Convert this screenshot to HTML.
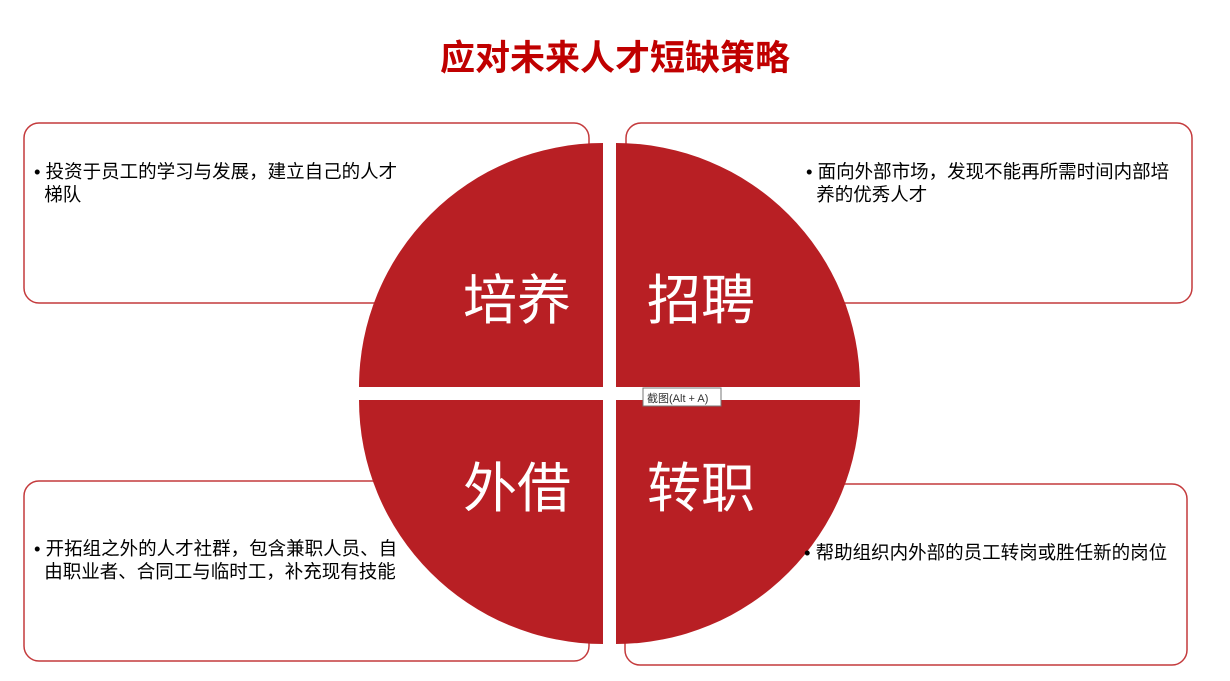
<!DOCTYPE html>
<html><head><meta charset="utf-8"><style>
body{margin:0;width:1230px;height:681px;background:#fff;position:relative;overflow:hidden;font-family:"Liberation Sans","Noto Sans CJK SC",sans-serif}
.t{position:absolute;font-size:18.5px;color:#000;line-height:23px}
.b{position:absolute;font-size:54px;color:#fff;line-height:54px}
</style></head><body>
<div style="position:absolute;left:0;width:1230px;top:38px;text-align:center;font-size:35px;font-weight:bold;color:#c00000;line-height:42px">应对未来人才短缺策略</div>
<svg width="1230" height="681" style="position:absolute;left:0;top:0">
<g fill="#fff" stroke="#c43a3c" stroke-width="1.5">
<rect x="24" y="123" width="565" height="180" rx="15"/>
<rect x="626" y="123" width="566" height="180" rx="15"/>
<rect x="24" y="481" width="565" height="180" rx="15"/>
<rect x="625" y="484" width="562" height="181" rx="15"/>
</g>
<g fill="#b81f24">
<path d="M603 387 L359 387 A244 244 0 0 1 603 143 Z"/>
<path d="M616 387 L616 143 A244 244 0 0 1 860 387 Z"/>
<path d="M603 400 L603 644 A244 244 0 0 1 359 400 Z"/>
<path d="M616 400 L860 400 A244 244 0 0 1 616 644 Z"/>
</g>
<rect x="643" y="388" width="78" height="18" fill="#fff" stroke="#777" stroke-width="1"/>
<text x="647" y="402" font-size="11" fill="#333" font-family="Liberation Sans,Noto Sans CJK SC,sans-serif">截图(Alt + A)</text>
</svg>
<div class="t" style="left:34px;top:160px">•&nbsp;投资于员工的学习与发展，建立自己的人才<br>&nbsp;&nbsp;梯队</div>
<div class="t" style="left:806px;top:160px">•&nbsp;面向外部市场，发现不能再所需时间内部培<br>&nbsp;&nbsp;养的优秀人才</div>
<div class="t" style="left:34px;top:537px">•&nbsp;开拓组之外的人才社群，包含兼职人员、自<br>&nbsp;&nbsp;由职业者、合同工与临时工，补充现有技能</div>
<div class="t" style="left:804px;top:541px">•&nbsp;帮助组织内外部的员工转岗或胜任新的岗位</div>
<div class="b" style="left:463px;top:274px">培养</div>
<div class="b" style="left:647px;top:274px">招聘</div>
<div class="b" style="left:463px;top:462px">外借</div>
<div class="b" style="left:647px;top:462px">转职</div>
</body></html>
